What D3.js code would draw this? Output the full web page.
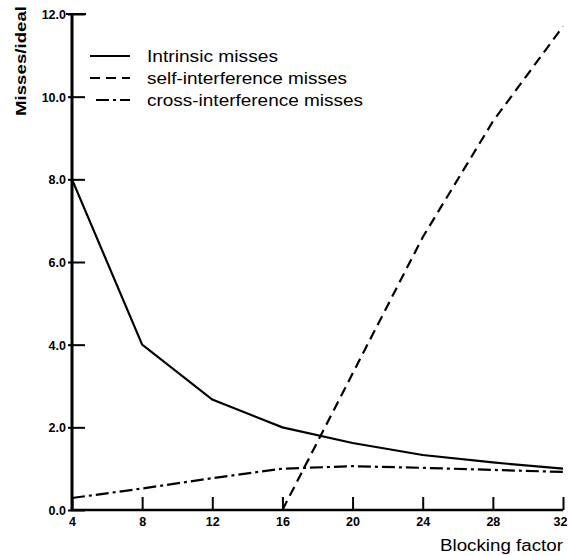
<!DOCTYPE html>
<html>
<head>
<meta charset="utf-8">
<script src="https://cdn.jsdelivr.net/npm/d3@7"></script>
<style>
  body { margin: 0; background: #fff; }
  svg { display: block; font-family: "Liberation Sans", Arial, sans-serif; }
</style>
</head>
<body>
<div id="chart"></div>
<script>
  // blocking factors on the x axis
  var blocking = [4, 8, 12, 16, 20, 24, 28, 32];
  var intrinsic = [8.0, 4.0, 2.67, 2.0, 1.62, 1.33, 1.15, 1.0];
  var selfInterference = [null, null, null, 0.0, 3.3, 6.6, 9.4, 11.7];
  var crossInterference = [0.29, 0.52, 0.77, 1.0, 1.06, 1.02, 0.97, 0.92];
  var yTicks = [0, 2, 4, 6, 8, 10, 12];
  var seriesNames = ['Intrinsic misses', 'self-interference misses', 'cross-interference misses'];

  var width = 568, height = 556;
  var margin = { top: 14, right: 5, bottom: 46, left: 72 };

  var svg = d3.select('#chart').append('svg')
    .attr('width', width)
    .attr('height', height);

  var x = d3.scaleLinear().domain([4, 32]).range([margin.left, width - margin.right]);
  var y = d3.scaleLinear().domain([0, 12]).range([height - margin.bottom, margin.top]);

  // axes: ticks point inward like the original figure
  var yAxis = d3.axisRight(y).tickValues(yTicks).tickSize(13).tickFormat(d3.format('.1f'));
  var xAxis = d3.axisTop(x).tickValues(blocking).tickSize(13).tickFormat(d3.format('d'));

  var gy = svg.append('g')
    .attr('transform', 'translate(' + margin.left + ',0)')
    .call(yAxis);
  gy.select('.domain').remove();
  gy.selectAll('.tick line').attr('x1', -4).attr('stroke', '#000').attr('stroke-width', 2);
  gy.selectAll('.tick text')
    .attr('x', -6)
    .attr('dy', '0.35em')
    .style('text-anchor', 'end')
    .style('font-size', '12.5px')
    .style('font-weight', 'bold')
    .attr('fill', '#000');

  var gx = svg.append('g')
    .attr('transform', 'translate(0,' + y(0) + ')')
    .call(xAxis);
  gx.select('.domain').remove();
  gx.selectAll('.tick line').attr('stroke', '#000').attr('stroke-width', 2);
  gx.selectAll('.tick text')
    .attr('y', 16)
    .attr('dy', 0)
    .style('font-size', '12.5px')
    .style('font-weight', 'bold')
    .attr('fill', '#000');
  // keep the last label inside the picture
  gx.selectAll('.tick text')
    .filter(function(d) { return d === 32; })
    .attr('x', 4)
    .style('text-anchor', 'end');

  // axis lines
  svg.append('line')
    .attr('x1', x(4)).attr('x2', x(4))
    .attr('y1', y(12)).attr('y2', y(0))
    .attr('stroke', '#000').attr('stroke-width', 3);
  svg.append('line')
    .attr('x1', x(4) - 1).attr('x2', x(32))
    .attr('y1', y(0)).attr('y2', y(0))
    .attr('stroke', '#000').attr('stroke-width', 2.5);
  // wider tick at the top of the y axis
  svg.append('line')
    .attr('x1', x(4) - 6).attr('x2', x(4) + 14)
    .attr('y1', y(12)).attr('y2', y(12))
    .attr('stroke', '#000').attr('stroke-width', 2);

  // axis titles (the scan is wider than the font, so stretch the glyphs)
  svg.append('text')
    .attr('transform', 'rotate(-90)')
    .attr('x', -6)
    .attr('y', 26)
    .attr('textLength', 110)
    .attr('lengthAdjust', 'spacingAndGlyphs')
    .style('text-anchor', 'end')
    .style('font-size', '15px')
    .style('font-weight', 'bold')
    .text('Misses/ideal');

  svg.append('text')
    .attr('x', 440)
    .attr('y', 551)
    .attr('textLength', 123)
    .attr('lengthAdjust', 'spacingAndGlyphs')
    .style('font-size', '16px')
    .text('Blocking factor');

  // series lines
  var dashes = [null, '10,6', '13,4,3,4'];
  var allSeries = [intrinsic, selfInterference, crossInterference];

  var line = d3.line()
    .defined(function(d) { return d.v !== null; })
    .x(function(d) { return x(d.b); })
    .y(function(d) { return y(d.v); });

  allSeries.forEach(function(vals, i) {
    var pts = blocking.map(function(b, j) { return { b: b, v: vals[j] }; });
    svg.append('path')
      .datum(pts)
      .attr('fill', 'none')
      .attr('stroke', '#000')
      .attr('stroke-width', 2.2)
      .attr('stroke-dasharray', dashes[i])
      .attr('d', line);
  });

  // legend
  var legendWidths = [131, 200, 216];
  var legend = svg.append('g').attr('transform', 'translate(90,56)');
  seriesNames.forEach(function(name, i) {
    var row = legend.append('g').attr('transform', 'translate(0,' + (i * 22) + ')');
    row.append('line')
      .attr('x1', i === 2 ? 6 : 0).attr('x2', 40)
      .attr('y1', 0).attr('y2', 0)
      .attr('stroke', '#000')
      .attr('stroke-width', 2.2)
      .attr('stroke-dasharray', dashes[i]);
    row.append('text')
      .attr('x', 57)
      .attr('y', 6)
      .attr('textLength', legendWidths[i])
      .attr('lengthAdjust', 'spacingAndGlyphs')
      .style('font-size', '16px')
      .text(name);
  });
</script>
</body>
</html>
